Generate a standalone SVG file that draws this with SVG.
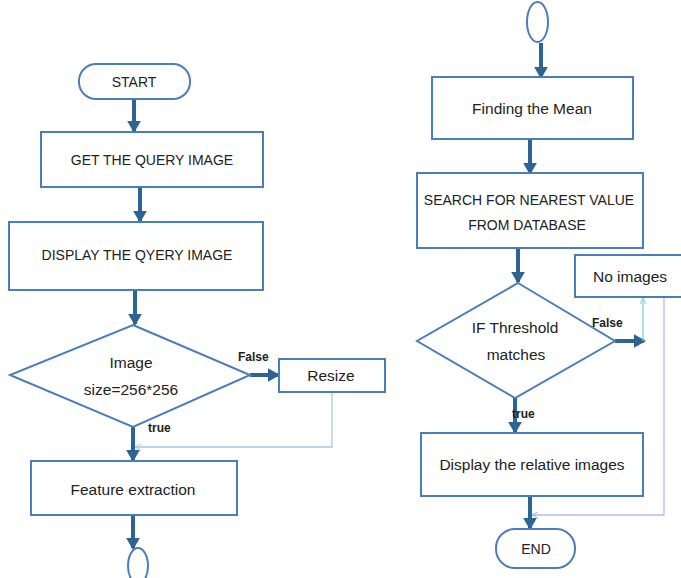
<svg xmlns="http://www.w3.org/2000/svg" width="681" height="578" viewBox="0 0 681 578">
<defs>
<style>
.box{fill:#fff;stroke:#4a7ebb;stroke-width:2}
.t{font-family:"Liberation Sans",Arial,sans-serif;font-size:14px;fill:#222;text-anchor:middle}
.m{font-size:15.5px}
.lb{font-family:"Liberation Sans",Arial,sans-serif;font-size:12px;font-weight:bold;fill:#222}
.arr{stroke:#2e6494;stroke-width:4;fill:none;marker-end:url(#ah)}
.thin{fill:none;stroke-width:1.3}
</style>
<marker id="ah" markerWidth="4" markerHeight="4" refX="2.5" refY="2" orient="auto" markerUnits="strokeWidth">
<path d="M0,0.3 L3,2 L0,3.7 Z" fill="#2e6494"/>
</marker>
<marker id="sm" markerWidth="8" markerHeight="8" refX="7" refY="4" orient="auto" markerUnits="userSpaceOnUse">
<path d="M1,1 L7,4 L1,7" fill="none" stroke="#7fcfd6" stroke-width="1"/>
</marker>
<marker id="sm2" markerWidth="8" markerHeight="8" refX="7" refY="4" orient="auto" markerUnits="userSpaceOnUse">
<path d="M1,1 L7,4 L1,7" fill="none" stroke="#9ec8e6" stroke-width="1"/>
</marker>
</defs>
<rect width="681" height="578" fill="#fff"/>

<g id="connectors">
<line class="arr" x1="134" y1="99" x2="134" y2="131"/>
<line class="arr" x1="140" y1="187" x2="140" y2="221"/>
<line class="arr" x1="135" y1="290" x2="135" y2="324"/>
<line class="arr" x1="250" y1="375" x2="278" y2="375"/>
<line class="arr" x1="133" y1="427" x2="133" y2="460"/>
<polyline class="thin" stroke="#a9c8e2" points="332,392 332,447 135,447" marker-end="url(#sm2)"/>
<line class="arr" x1="133" y1="515" x2="133" y2="548"/>

<line class="arr" x1="541" y1="43" x2="541" y2="77"/>
<line class="arr" x1="530" y1="139" x2="530" y2="173"/>
<line class="arr" x1="518" y1="248" x2="518" y2="282"/>
<line class="arr" x1="615" y1="341" x2="644" y2="341"/>
<line class="thin" stroke="#7fcfd6" x1="643" y1="341" x2="643" y2="298" marker-end="url(#sm)"/>
<line class="arr" x1="515" y1="398" x2="515" y2="432"/>
<polyline class="thin" stroke="#b8b8f2" points="664,297 664,515 532,515" marker-end="url(#sm)"/>
<line class="arr" x1="530" y1="496" x2="530" y2="528"/>
</g>

<g id="start">
<rect class="box" x="79" y="64" width="111" height="35" rx="17"/>
<text class="t" x="134" y="87">START</text>
</g>
<g id="get">
<rect class="box" x="41" y="132" width="222" height="55"/>
<text class="t" x="152" y="165">GET THE QUERY IMAGE</text>
</g>
<g id="display">
<rect class="box" x="9" y="222" width="254" height="68"/>
<text class="t" x="137" y="260">DISPLAY THE QYERY IMAGE</text>
</g>
<g id="decision1">
<polygon class="box" points="133,325 250,375 133,427 10,375"/>
<text class="t m" x="131" y="368">Image</text>
<text class="t m" x="131" y="395">size=256*256</text>
</g>
<text class="lb" x="238" y="361">False</text>
<text class="lb" x="148" y="432">true</text>
<g id="resize">
<rect class="box" x="279" y="359" width="106" height="33"/>
<text class="t m" x="331" y="381">Resize</text>
</g>
<g id="feature">
<rect class="box" x="31" y="461" width="206" height="54"/>
<text class="t m" x="133" y="495">Feature extraction</text>
</g>
<g id="connector-left">
<ellipse class="box" cx="138" cy="566" rx="10" ry="18"/>
</g>

<g id="connector-right">
<ellipse class="box" cx="537.5" cy="22" rx="10.5" ry="20"/>
</g>
<g id="mean">
<rect class="box" x="432" y="77" width="201" height="62"/>
<text class="t m" x="532" y="114">Finding the Mean</text>
</g>
<g id="search">
<rect class="box" x="417" y="173" width="226" height="75"/>
<text class="t" x="529" y="205">SEARCH FOR NEAREST VALUE</text>
<text class="t" x="527" y="230">FROM DATABASE</text>
</g>
<g id="noimages">
<rect class="box" x="575" y="255" width="110" height="42"/>
<text class="t m" x="630" y="282">No images</text>
</g>
<g id="decision2">
<polygon class="box" points="518,283 615,341 515,398 417,341"/>
<text class="t m" x="515" y="333">IF Threshold</text>
<text class="t m" x="516" y="360">matches</text>
</g>
<text class="lb" x="592" y="327">False</text>
<text class="lb" x="512" y="418">true</text>
<g id="relative">
<rect class="box" x="421" y="433" width="222" height="63"/>
<text class="t m" x="532" y="470">Display the relative images</text>
</g>
<g id="end">
<rect class="box" x="496" y="529" width="79" height="39" rx="19"/>
<text class="t" x="536" y="554">END</text>
</g>
</svg>
